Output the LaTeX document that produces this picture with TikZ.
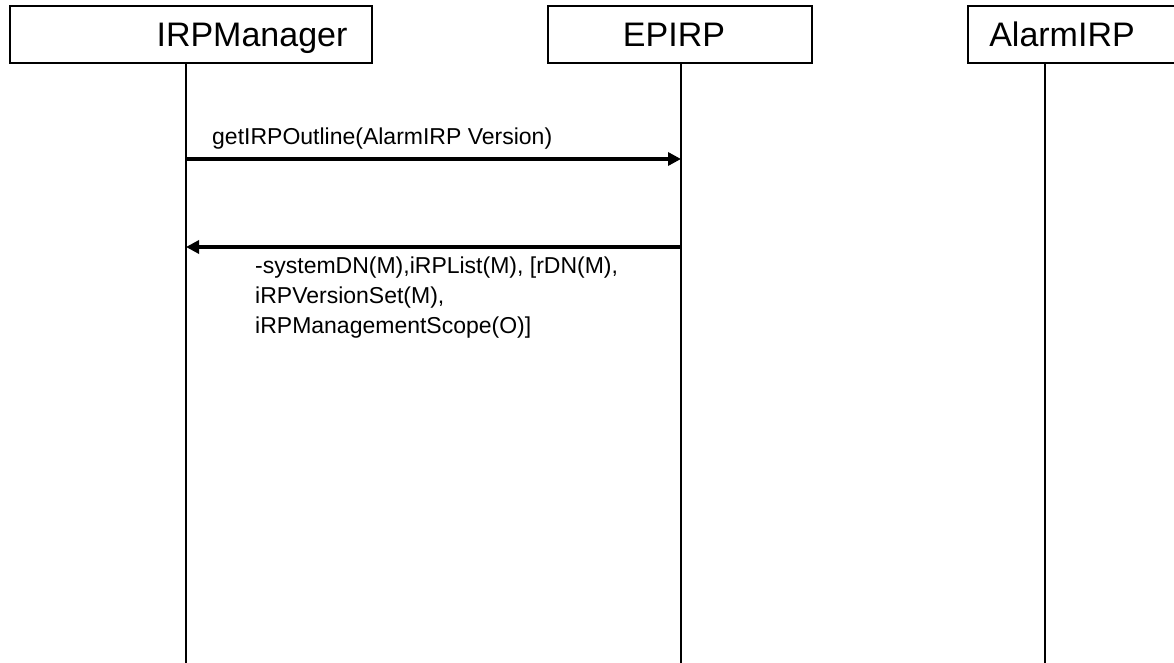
\documentclass[tikz,border=0pt]{standalone}
\usepackage{fontspec}
\setmainfont{Liberation Sans}
\usetikzlibrary{arrows.meta}
\begin{document}
\begin{tikzpicture}[x=1pt,y=-1pt,
  objbox/.style={draw,line width=1.6pt,rectangle,inner sep=0pt,minimum height=57pt},
  objname/.style={font=\fontsize{34}{40}\selectfont,inner sep=0pt,anchor=base},
  lifeline/.style={line width=1.6pt},
  msg/.style={line width=3.6pt,-{Triangle[length=13pt,width=13pt]}},
  msgtext/.style={font=\fontsize{23}{30}\selectfont,inner sep=0pt,anchor=base west,align=left}]
\useasboundingbox (0,0) rectangle (1174,663);
\clip (0,0) rectangle (1174,663);
\fill[white] (0,0) rectangle (1174,663);

% object boxes
\node[objbox,minimum width=362pt] (mgr) at (191,34.5) {};
\node[objbox,minimum width=264pt] (ep) at (680,34.5) {};
\node[objbox,minimum width=264pt] (al) at (1100,34.5) {};
\node[objname] (mgrname) at (252,47) {IRPManager};
\node[objname] (epname) at (674,47) {EPIRP};
\node[objname] (alname) at (1062,47) {AlarmIRP};

% lifelines
\coordinate (mgrend) at (186,663);
\coordinate (epend) at (681,663);
\coordinate (alend) at (1045,663);
\draw[lifeline] (mgr.south -| mgrend) -- (mgrend);
\draw[lifeline] (ep.south -| epend) -- (epend);
\draw[lifeline] (al.south -| alend) -- (alend);

% messages
\coordinate (m1) at (186,159);
\coordinate (e1) at (681,159);
\coordinate (m2) at (186,247);
\coordinate (e2) at (681,247);
\draw[msg] (m1) -- (e1);
\draw[msg] (e2) -- (m2);
\node[msgtext] (req) at (212,145) {getIRPOutline(AlarmIRP Version)};
\node[msgtext,anchor=north west] (resp) at (255,257) {-systemDN(M),iRPList(M), [rDN(M),\\iRPVersionSet(M),\\iRPManagementScope(O)]};
\end{tikzpicture}
\end{document}
